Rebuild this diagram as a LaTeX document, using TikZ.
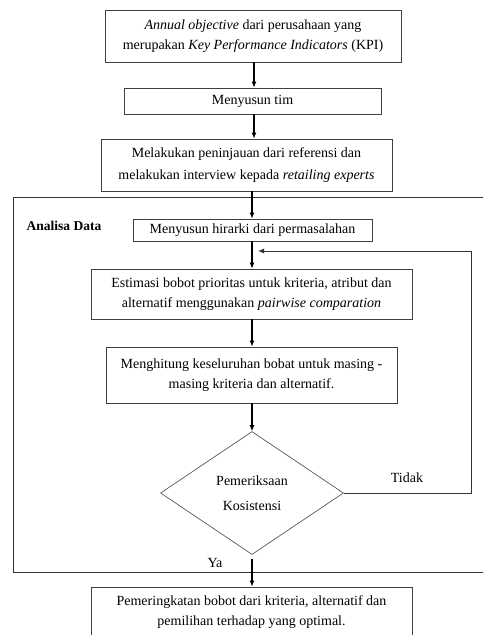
\documentclass[tikz,border=0pt]{standalone}
\usepackage{fontspec}
\setmainfont{Liberation Serif}
\usetikzlibrary{shapes.geometric,arrows.meta}
\begin{document}
\begin{tikzpicture}[x=1pt,y=-1pt,
  box/.style={draw=black!75, line width=0.8pt, rectangle, inner sep=0pt, align=center, font=\fontsize{14}{20}\selectfont},
  arr/.style={draw=black, line width=1.1pt, -{Latex[length=6pt,width=5pt]}},
  fbarr/.style={draw=black!80, line width=0.9pt, -{Latex[length=6pt,width=5pt]}},
  frame/.style={draw=black!80, line width=0.8pt},
  lbl/.style={font=\fontsize{14}{20}\selectfont, inner sep=0pt}]
\useasboundingbox (0,0) rectangle (483,635);
\clip (0,0) rectangle (483,635);
\fill[white] (0,0) rectangle (483,635);

% frame of "Analisa Data"
\draw[frame] (495,197) -- (13,197) -- (13,572) -- (495,572);

\node[box, minimum width=296pt, minimum height=52pt] (b1) at (253,36)
  {\textit{Annual objective} dari perusahaan yang\\merupakan \textit{Key Performance Indicators} (KPI)};
\node[box, minimum width=257pt, minimum height=26pt] (b2) at (252.5,101) {Menyusun tim};
\node[box, minimum width=291pt, minimum height=52pt] (b3) at (246.5,165)
  {Melakukan peninjauan dari referensi dan\\[2pt]melakukan interview kepada \textit{retailing experts}};
\node[font=\bfseries\fontsize{13.5}{16}\selectfont, inner sep=0pt] (ad) at (64,226) {Analisa Data};
\node[box, minimum width=239pt, minimum height=22pt] (b4) at (252.5,230) {Menyusun hirarki dari permasalahan};
\node[box, minimum width=321pt, minimum height=50pt] (b5) at (251.5,294)
  {Estimasi bobot prioritas untuk kriteria, atribut dan\\alternatif menggunakan \textit{pairwise comparation}};
\node[box, minimum width=291pt, minimum height=56pt] (b6) at (251.5,375)
  {Menghitung keseluruhan bobat untuk masing -\\masing kriteria dan alternatif.};
\node[draw=black!65, line width=0.7pt, diamond, minimum width=183pt, minimum height=123pt, inner sep=0pt,
  align=center, font=\fontsize{14}{20}\selectfont] (dia) at (252,493) {Pemeriksaan\\[5pt]Kosistensi};
\node[box, minimum width=321pt, minimum height=50pt] (b7) at (251.5,612)
  {Pemeringkatan bobot dari kriteria, alternatif dan\\pemilihan terhadap yang optimal.};

\node[lbl] (ya) at (215,563) {Ya};
\node[lbl] (tidak) at (407,478) {Tidak};

\coordinate (ax1) at (254,0);
\coordinate (ax) at (252,0);
\coordinate (fbr) at (471,0);
\coordinate (fbt) at (258,251);

\draw[arr] (b1.south -| ax1) -- (b2.north -| ax1);
\draw[arr] (b2.south -| ax1) -- (b3.north -| ax1);
\draw[arr] (b3.south -| ax) -- (b4.north -| ax);
\draw[arr] (b4.south -| ax) -- (b5.north -| ax);
\draw[arr] (b5.south -| ax) -- (b6.north -| ax);
\draw[arr] (b6.south -| ax) -- (dia.north);
\draw[arr] ([yshift=-4pt]dia.south) -- (b7.north -| ax);
\draw[fbarr] (dia.east) -- (dia.east -| fbr) -- (fbr |- fbt) -- (fbt);
\end{tikzpicture}
\end{document}
